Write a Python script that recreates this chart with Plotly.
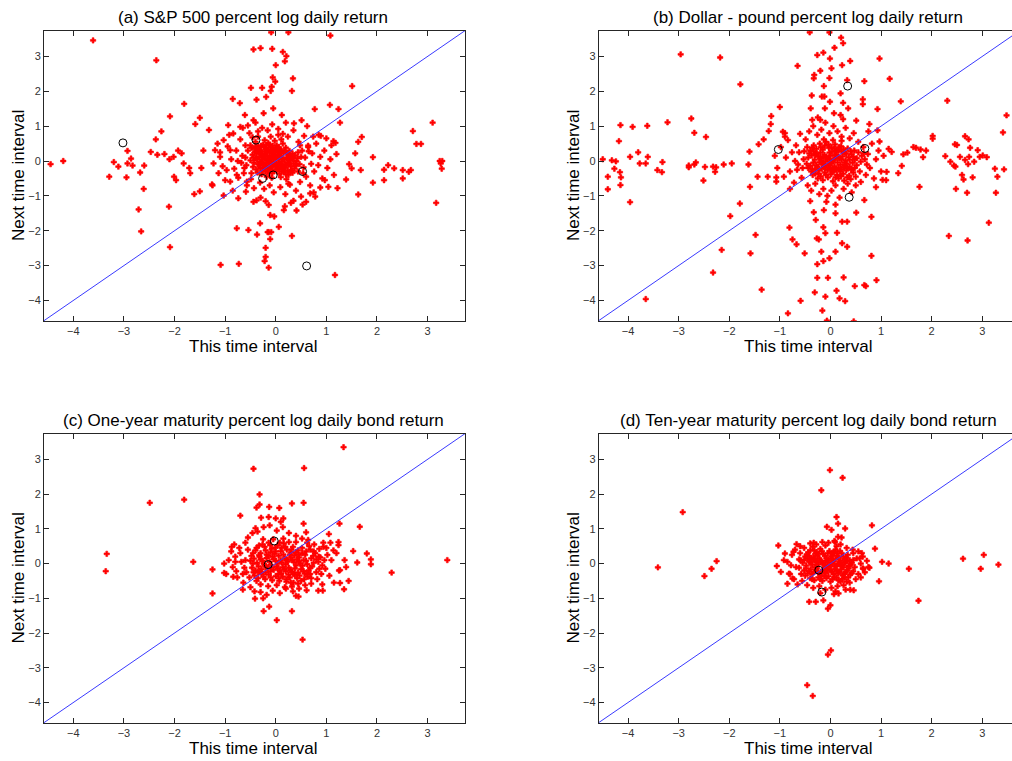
import plotly.graph_objects as go

# ---------------- data ----------------
panel_titles = ["(a) S&P 500 percent log daily return",
                "(b) Dollar - pound percent log daily return",
                "(c) One-year maturity percent log daily bond return",
                "(d) Ten-year maturity percent log daily bond return"]
x_label = "This time interval"
y_label = "Next time interval"
tick_values = [-4, -3, -2, -1, 0, 1, 2, 3]
data_min, data_max = -4.58, 3.74

# (a) S&P 500: (this, next) pairs
a_points = [
    (-4.45, -0.09), (-4.20, 0.0), (-3.61, 3.46), (-2.36, 2.89), (-1.81, 1.64), (-3.29, -0.45), (-3.20, -0.03),
    (-3.11, -0.16), (-2.93, 0.29), (-2.93, -0.07), (-2.95, -0.47), (-2.86, 0.07), (-2.83, -0.13), (-2.68, -0.33),
    (-2.60, -0.13), (-2.61, -0.80), (-2.71, -1.39), (-2.66, -2.02), (-2.37, 0.62), (-2.34, 0.18), (-2.26, 0.85),
    (-2.47, 0.26), (-2.20, 0.20), (-2.09, 1.28), (-2.10, 0.05), (-2.02, 0.12), (-2.01, -0.45), (-1.97, -0.55),
    (-2.11, -1.31), (-2.09, -2.47), (-1.93, 0.30), (-1.86, 0.22), (-1.82, -0.07), (-1.71, -0.20), (-1.69, -0.35),
    (-1.59, 1.06), (-1.50, 1.24), (-1.61, -0.95), (-1.50, -0.87), (-1.47, -0.20), (-1.43, 0.30), (-1.32, 0.89),
    (-1.26, -0.67), (-1.25, -0.70), (-1.09, -2.98), (-0.73, -2.95), (-1.03, -0.99), (-0.94, 1.03), (-0.85, 1.78),
    (-0.71, 1.66), (-0.77, -1.93), (-0.54, -1.98), (-0.37, -2.11), (-0.44, 3.20), (-0.30, 3.24), (-0.07, 3.22),
    (-0.09, 3.69), (0.25, 3.69), (0.14, 3.13), (0.21, 3.01), (0.18, 2.86), (0.0, 2.75), (-0.06, 2.40), (-0.01, 2.28),
    (-0.08, 2.13), (-0.10, 2.01), (-0.27, 2.10), (-0.49, 2.10), (0.34, 2.37), (0.32, 2.01), (-0.38, 1.76),
    (-0.19, 1.84), (1.08, 3.60), (1.51, 2.15), (1.07, 1.61), (1.24, 1.49), (0.77, 1.49), (1.27, 1.10), (1.14, 0.57),
    (1.18, 0.52), (1.70, 0.69), (1.63, 0.55), (1.57, 0.22), (1.92, 0.11), (1.45, -0.09), (1.50, -0.21), (1.68, -0.26),
    (1.39, -0.53), (1.92, -0.62), (1.63, -0.96), (1.22, -0.78), (2.22, -0.12), (2.14, -0.25), (2.34, -0.21),
    (2.14, -0.55), (2.51, -0.26), (2.51, -0.50), (2.63, -0.31), (2.67, -0.26), (2.71, 0.86), (2.78, 0.49),
    (2.87, 0.49), (3.10, 1.10), (3.24, 0.0), (3.26, -0.07), (3.29, 0.0), (3.28, -0.22), (3.17, -1.20), (1.17, -3.27),
    (0.32, -2.15), (0.06, -1.89), (-0.14, -2.04), (-0.09, -2.04), (-0.16, -2.04), (-0.11, -2.24), (-0.20, -2.49),
    (-0.20, -2.75), (-0.22, -2.87), (-0.14, -3.06), (-0.31, -1.79), (-0.11, -1.55), (-0.03, -1.59), (0.18, -1.30),
    (0.41, -1.42), (0.35, -1.14), (0.60, -1.17), (0.53, -1.25), (0.16, -1.41), (-0.14, -1.26), (-0.44, -1.17),
    (-0.38, -1.13), (-0.74, -1.07), (-0.59, -0.88), (-0.57, -0.59), (0.78, -1.02), (0.68, -0.93), (0.88, -0.76),
    (1.04, -0.74), (0.97, -0.55), (0.89, 0.72), (0.74, 0.70), (0.64, 0.44), (0.51, 1.17), (0.36, 1.08), (0.12, 1.32),
    (-0.05, 1.51), (-0.24, 1.37), (-0.44, 1.17), (-0.61, 1.32), (-0.70, 0.98), (-0.84, 0.79), (-0.90, 0.31),
    (-1.03, 0.60), (-1.10, 0.12), (-1.20, 0.31), (-1.23, -0.07), (-1.13, -0.35), (-0.97, -0.26), (-0.90, -0.59),
    (-0.77, -0.40),
    # central cloud
    (-0.42, 0.35), (-0.35, 0.42), (-0.30, 0.28), (-0.25, 0.47), (-0.20, 0.36), (-0.15, 0.52), (-0.10, 0.40),
    (-0.05, 0.31), (0.02, 0.45), (0.08, 0.33), (0.14, 0.50), (0.20, 0.38), (0.27, 0.29), (-0.46, 0.18), (-0.38, 0.22),
    (-0.33, 0.12), (-0.27, 0.19), (-0.22, 0.08), (-0.17, 0.24), (-0.12, 0.15), (-0.07, 0.21), (-0.02, 0.11),
    (0.04, 0.26), (0.09, 0.14), (0.15, 0.22), (0.21, 0.10), (0.26, 0.18), (0.32, 0.07), (0.38, 0.16), (-0.50, 0.02),
    (-0.43, -0.05), (-0.37, 0.05), (-0.31, -0.02), (-0.26, 0.03), (-0.19, -0.04), (-0.14, 0.06), (-0.09, -0.01),
    (-0.04, 0.04), (0.01, -0.03), (0.06, 0.05), (0.12, -0.02), (0.17, 0.03), (0.23, -0.05), (0.29, 0.01),
    (0.35, -0.06), (0.41, 0.00), (0.47, -0.09), (-0.45, -0.17), (-0.39, -0.24), (-0.32, -0.13), (-0.24, -0.21),
    (-0.18, -0.12), (-0.11, -0.19), (-0.06, -0.10), (0.00, -0.16), (0.05, -0.23), (0.11, -0.12), (0.18, -0.18),
    (0.24, -0.26), (0.30, -0.15), (0.37, -0.22), (0.44, -0.30), (-0.36, -0.33), (-0.28, -0.38), (-0.21, -0.30),
    (-0.13, -0.35), (-0.03, -0.29), (0.07, -0.36), (0.16, -0.31), (0.25, -0.40), (0.33, -0.34), (-0.18, -0.45),
    (-0.08, -0.48), (0.10, -0.46), (0.21, -0.52), (-0.40, 0.55), (-0.22, 0.60), (-0.02, 0.58), (0.11, 0.62),
    (-0.55, 0.30), (-0.60, 0.10), (-0.58, -0.12), (0.50, 0.12), (0.55, -0.18), (0.52, 0.30), (-0.16, 0.02),
    (-0.11, 0.09), (-0.21, 0.14), (-0.06, 0.13), (-0.01, 0.19), (0.03, 0.09), (-0.24, -0.09), (-0.28, 0.10),
    (0.08, -0.07), (0.13, 0.08), (-0.08, 0.27), (-0.18, 0.31), (-0.13, -0.06), (0.19, -0.09), (-0.33, 0.32),
    (0.25, 0.06), (-0.03, -0.08), (0.06, 0.17), (-0.26, 0.26), (-0.40, 0.08), (0.03, 0.36), (0.15, -0.24),
    (-0.10, -0.25), (0.33, 0.22), (0.40, -0.14), (-0.48, 0.38), (0.44, 0.25),
    (-0.40, 0.42), (-0.34, 0.36), (-0.29, 0.44), (-0.23, 0.40), (-0.18, 0.45), (-0.12, 0.47), (-0.06, 0.44),
    (0.00, 0.38), (0.06, 0.40), (0.11, 0.30), (0.17, 0.28), (0.23, 0.24), (-0.41, 0.27), (-0.36, 0.30),
    (-0.31, 0.21), (-0.20, 0.19), (-0.14, 0.33), (-0.09, 0.30), (0.01, 0.30), (0.10, 0.24), (0.29, 0.13),
    (0.35, 0.10), (-0.44, 0.10), (-0.35, -0.09), (-0.29, -0.06), (-0.22, -0.15), (-0.16, -0.20), (-0.07, -0.16),
    (0.03, -0.12), (0.09, -0.19), (0.14, -0.15), (0.21, -0.14), (0.27, -0.09), (0.32, -0.27), (0.40, -0.08),
    (0.43, 0.08), (-0.26, -0.28), (-0.16, -0.27), (-0.07, -0.35), (0.02, -0.25), (0.12, -0.30), (0.20, -0.38),
    (0.29, -0.31), (-0.31, -0.20),
    (-0.95, 0.42), (-0.88, 0.05), (-0.82, -0.22), (-0.78, 0.30), (-0.74, -0.48), (-0.70, 0.62), (-0.66, 0.15),
    (-0.63, -0.35), (-0.60, 0.45), (-0.57, -0.70), (-0.68, -0.05), (-0.52, 0.80), (-0.49, -0.52), (-0.46, 0.68),
    (-0.43, -0.78), (-0.35, 0.85), (-0.31, -0.62), (-0.27, 0.95), (-0.23, -0.80), (-0.16, 0.88), (-0.12, -0.70),
    (-0.07, 1.05), (-0.04, -0.90), (0.05, 0.92), (0.09, -0.75), (0.14, 0.78), (0.19, -0.95), (0.24, 0.70),
    (0.28, -0.68), (0.35, 0.88), (0.40, -0.85), (0.45, 0.55), (0.48, -0.60), (0.56, 0.72), (0.60, -0.45),
    (0.64, 0.40), (0.68, -0.70), (0.72, 0.22), (0.76, -0.30), (0.80, 0.50), (0.84, -0.12), (0.88, 0.12),
    (0.92, -0.50), (0.96, 0.30), (1.02, -0.20), (1.08, 0.05), (1.15, -0.40), (1.20, 0.20), (-1.05, -0.15),
    (-1.10, 0.25), (-1.00, -0.55), (-0.92, 0.75), (-0.85, -0.85), (-0.55, 1.02), (0.20, 1.10), (0.62, 1.00),
    (0.50, -1.02), (-0.30, -1.05), (0.75, -0.90), (1.10, 0.45), (-1.15, 0.50), (-0.40, 1.10), (-0.20, -1.15),
    (0.30, -1.20), (0.85, 0.75), (1.00, 0.65), (-0.65, 0.95), (0.58, 0.10), (-0.75, 0.00), (0.70, -0.08),
    (0.65, 0.28), (-0.62, -0.20), (0.54, -0.35), (-0.50, 0.45), (0.48, 0.45), (-0.48, -0.35), (0.05, 0.75),
    (-0.35, 0.70), (0.25, -0.65), (-0.10, 0.70),
]
a_circles = [(-3.02, 0.52), (-0.39, 0.60), (-0.26, -0.50), (-0.05, -0.40), (0.53, -0.30), (0.61, -3.01)]

# (b) Dollar - pound
b_points = [
    (-4.50, 0.05), (-4.40, -0.45), (-4.40, -0.81), (-4.32, 0.02), (-4.24, -0.01), (-4.27, -0.22), (-4.18, 0.57),
    (-4.15, 1.03), (-4.16, -0.32), (-4.14, -0.47), (-4.15, -0.69), (-3.96, 0.12), (-3.91, 0.98), (-3.96, -1.18),
    (-3.80, 0.25), (-3.77, -0.07), (-3.65, -0.07), (-3.61, 0.12), (-3.62, 1.01), (-3.42, -0.26), (-3.33, -0.32),
    (-3.32, -0.03), (-3.22, 1.11), (-3.65, -3.96), (-2.96, 3.06), (-2.80, -0.13), (-2.80, -0.18), (-2.75, 1.22),
    (-2.69, 0.81), (-2.69, -0.10), (-2.66, -0.04), (-2.51, -0.56), (-2.48, -0.17), (-2.46, 0.69), (-2.32, -0.16),
    (-2.28, -0.31), (-2.26, -0.18), (-2.18, 2.97), (-2.11, -0.10), (-1.95, -0.07), (-1.78, 2.20), (-2.32, -3.20),
    (-2.15, -2.55), (-1.98, -1.58), (-1.79, -1.22), (-1.58, -2.65), (-1.48, -2.12), (-1.36, -3.69), (-1.60, 0.27),
    (-1.62, -0.10), (-1.59, -0.74), (-1.44, -0.45), (-1.42, 0.48), (-1.32, 0.62), (-1.22, 0.86), (-1.18, 1.06),
    (-1.17, 1.29), (-1.00, 1.55), (-0.94, 0.84), (-0.90, 0.70), (-1.07, -0.47), (-1.07, -0.59), (-1.24, -0.45),
    (-0.81, -1.91), (-0.75, -2.25), (-0.67, -2.39), (-0.51, -2.65), (-0.59, -4.01), (-0.84, -4.37), (-0.31, -3.77),
    (-0.16, -4.29), (-0.10, -3.89), (-0.07, -4.58), (0.12, -3.72), (0.18, -3.94), (0.29, -4.02), (0.46, -4.60),
    (0.48, -3.59), (0.70, -3.59), (0.67, -3.56), (0.91, -3.42), (0.81, -2.72), (0.81, -1.60), (0.67, -1.12),
    (0.51, -1.48), (0.26, -3.34), (0.33, -2.46), (0.23, -2.36), (0.13, -2.06), (0.23, -1.74), (0.33, -1.74),
    (-0.05, -3.35), (-0.26, -3.35), (-0.26, -2.96), (-0.14, -2.87), (-0.02, -2.79), (-0.18, -2.60), (0.10, -2.60),
    (-0.27, -2.22), (-0.10, -2.07), (-0.14, -1.90), (-0.23, -2.25), (-0.33, -1.47), (-0.29, -1.69), (-0.13, -1.41),
    (-0.08, -1.17), (0.10, -1.50),
    (-0.41, 3.69), (-0.02, 3.69), (0.21, 3.54), (0.25, 3.38), (0.08, 3.25), (-0.26, 3.04), (-0.14, 3.11),
    (-0.01, 2.94), (0.39, 2.87), (-0.65, 2.73), (0.23, 2.75), (0.02, 2.66), (-0.20, 2.59), (-0.32, 2.47),
    (-0.33, 2.37), (-0.02, 2.38), (0.33, 2.32), (0.67, 2.29), (-0.13, 2.15), (0.20, 1.94), (-0.37, 1.88),
    (-0.17, 1.85), (-0.12, 1.85), (-0.01, 1.70), (0.25, 1.67), (0.64, 1.77), (0.64, 1.63), (-0.39, 1.51),
    (-0.11, 1.51), (0.35, 1.51), (0.07, 1.37), (0.20, 1.32), (-0.20, 1.18), (0.51, 1.16), (-0.36, 1.18),
    (0.97, 2.94), (1.17, 2.36), (0.93, 1.49), (1.39, 1.71), (0.93, 0.88), (0.77, 1.06),
    (0.97, 0.56), (1.21, 0.26), (1.11, -0.31), (1.03, -0.54), (1.34, -0.35), (1.41, -0.14), (1.44, 0.19),
    (1.52, 0.24), (1.64, 0.40), (1.69, 0.38), (1.78, 0.33), (1.83, 0.11), (1.89, 0.30), (1.76, -0.74), (2.02, 0.72),
    (2.02, 0.64), (2.31, 1.73), (2.27, 0.14), (2.37, -0.02), (2.44, -0.13), (2.47, -0.16), (2.48, -0.80),
    (2.34, -2.15), (2.46, 0.48), (2.50, 0.46), (2.56, 0.12), (2.60, -0.40), (2.63, -0.53), (2.66, 0.71),
    (2.73, 0.62), (2.66, 0.03), (2.74, 0.12), (2.76, 0.38), (2.72, -0.09), (2.70, -0.91), (2.71, -2.28),
    (2.81, -0.47), (2.84, -0.02), (2.91, 0.31), (2.95, 0.12), (3.01, 0.16), (3.09, 0.11), (3.13, -1.77),
    (3.25, -0.22), (3.30, -0.45), (3.27, -0.91), (3.41, 0.82), (3.43, -0.24), (3.48, 1.31),
    # central cloud
    (-0.40, 0.30), (-0.33, 0.45), (-0.27, 0.22), (-0.21, 0.50), (-0.15, 0.33), (-0.09, 0.55), (-0.03, 0.38),
    (0.03, 0.27), (0.09, 0.48), (0.15, 0.31), (0.21, 0.42), (0.28, 0.25), (0.34, 0.36), (-0.44, 0.10), (-0.37, 0.16),
    (-0.31, 0.04), (-0.24, 0.13), (-0.18, 0.02), (-0.12, 0.18), (-0.06, 0.07), (0.00, 0.15), (0.06, 0.03),
    (0.12, 0.20), (0.18, 0.08), (0.24, 0.14), (0.30, 0.02), (0.36, 0.11), (0.42, 0.19), (0.48, 0.05), (-0.47, -0.08),
    (-0.40, -0.14), (-0.34, -0.05), (-0.28, -0.12), (-0.22, -0.03), (-0.16, -0.10), (-0.10, -0.02), (-0.04, -0.13),
    (0.02, -0.06), (0.08, -0.15), (0.14, -0.04), (0.20, -0.11), (0.26, -0.18), (0.32, -0.08), (0.38, -0.16),
    (0.44, -0.05), (0.52, -0.12), (-0.38, -0.30), (-0.30, -0.24), (-0.23, -0.36), (-0.17, -0.22), (-0.11, -0.33),
    (-0.05, -0.25), (0.01, -0.38), (0.07, -0.28), (0.13, -0.40), (0.19, -0.30), (0.25, -0.37), (0.31, -0.27),
    (0.37, -0.42), (0.45, -0.33), (-0.25, -0.50), (-0.15, -0.55), (-0.05, -0.47), (0.05, -0.58), (0.16, -0.50),
    (0.27, -0.56), (0.40, -0.52), (0.55, 0.25), (0.60, -0.02), (0.58, -0.30), (-0.52, 0.28), (-0.55, -0.20),
    (-0.13, 0.62), (0.05, 0.60), (0.22, 0.58), (-0.08, 0.10), (0.04, -0.01), (-0.14, -0.06), (0.10, 0.09),
    (-0.02, 0.24), (0.16, -0.20), (-0.20, 0.24), (-0.26, -0.17), (0.22, 0.27), (0.33, -0.20), (-0.09, -0.19),
    (0.08, 0.36), (-0.33, 0.28), (0.28, -0.05), (0.00, -0.20), (0.47, 0.30), (-0.46, 0.40), (0.62, 0.15),
    (-0.35, -0.40), (0.50, -0.45),
    (-0.36, 0.38), (-0.28, 0.35), (-0.19, 0.40), (-0.11, 0.44), (-0.04, 0.48), (0.02, 0.40), (0.10, 0.30),
    (0.17, 0.40), (0.26, 0.34), (0.31, 0.21), (-0.42, 0.22), (-0.30, 0.18), (-0.20, 0.08), (-0.14, 0.12),
    (-0.02, 0.05), (0.08, 0.17), (0.14, 0.12), (0.22, 0.04), (0.38, 0.03), (0.45, 0.12), (-0.44, -0.20),
    (-0.36, -0.23), (-0.24, -0.27), (-0.13, -0.17), (-0.02, -0.09), (0.06, -0.22), (0.11, -0.25), (0.22, -0.24),
    (0.29, -0.14), (0.41, -0.25), (0.48, -0.20), (-0.30, -0.36), (-0.19, -0.44), (-0.09, -0.40), (0.03, -0.31),
    (0.10, -0.47), (0.21, -0.43), (0.33, -0.47), (0.52, 0.08), (0.40, 0.28),
    (-1.10, 0.15), (-1.05, -0.20), (-0.98, 0.40), (-0.92, -0.45), (-0.88, 0.10), (-0.84, 0.60), (-0.80, -0.30),
    (-0.76, 0.25), (-0.72, -0.62), (-0.68, 0.45), (-0.64, -0.10), (-0.60, 0.78), (-0.57, -0.48), (-0.53, 0.05),
    (-0.49, 0.62), (-0.45, -0.70), (-0.42, 0.85), (-0.38, -0.85), (-0.34, 1.00), (-0.30, -0.65), (-0.26, 0.75),
    (-0.22, -0.95), (-0.18, 0.90), (-0.14, -0.80), (-0.10, 1.10), (-0.06, -1.00), (-0.02, 0.80), (0.02, -0.85),
    (0.06, 1.00), (0.10, -0.70), (0.14, 0.85), (0.18, -1.05), (0.22, 0.70), (0.26, -0.80), (0.30, 0.95),
    (0.34, -0.65), (0.38, 0.65), (0.42, -0.90), (0.46, 0.80), (0.50, -0.70), (0.55, 0.55), (0.60, -0.60),
    (0.65, 0.40), (0.70, -0.40), (0.74, 0.20), (0.78, -0.20), (0.82, 0.50), (0.86, -0.50), (0.90, 0.05),
    (0.95, 0.30), (1.00, -0.30), (1.05, 0.15), (1.10, -0.55), (1.15, 0.35), (0.68, 0.05), (-0.70, 0.00),
    (0.72, -0.10), (-0.62, 0.25), (0.66, 0.22), (-0.66, -0.25), (0.90, -0.75), (-0.90, 0.80), (0.25, 1.20),
    (-0.25, 1.25), (0.10, -1.25), (-0.40, -1.15), (0.75, 0.85), (-0.80, -0.80),
]
b_circles = [(-1.03, 0.33), (0.34, 2.15), (0.68, 0.36), (0.37, -1.04)]

# (c) One-year bond
c_points = [
    (-3.36, -0.22), (-3.34, 0.28), (-2.49, 1.75), (-1.81, 1.84), (-1.63, 0.05), (-1.25, -0.17), (-1.25, -0.86),
    (-0.44, 2.73), (0.56, 2.75), (1.34, 3.35), (-0.32, 1.99), (0.32, 1.73), (0.55, 1.75), (-0.38, 1.61),
    (-0.32, 1.70), (-0.13, 1.63), (0.07, 1.60), (-0.70, 1.38), (-0.29, 1.32), (-0.14, 1.34), (0.0, 1.30),
    (0.15, 1.30), (0.55, 1.15), (1.26, 1.15), (1.66, 1.06), (1.53, 0.36), (1.80, 0.29), (1.61, 0.03), (1.88, 0.12),
    (1.88, -0.02), (2.29, -0.26), (3.39, 0.10), (1.44, -0.50), (1.35, -0.74), (1.27, -0.56), (1.39, -0.10),
    (1.36, 0.10), (1.27, -0.19), (0.84, -0.78), (0.93, -0.78), (0.61, -0.77), (0.40, -0.93), (0.32, -1.37),
    (0.53, -2.19), (0.02, -1.63), (-0.13, -1.24), (-0.24, -1.37), (-0.41, -1.01), (-0.65, -0.75), (-0.84, -0.38),
    (-1.02, -0.27), (-0.87, 0.48), (-1.02, 0.0), (-0.80, 0.05), (1.05, 0.85), (0.94, 0.48), (1.14, 0.38),
    (1.24, 0.62), (1.24, 0.53),
    # central cloud
    (-0.45, 0.30), (-0.38, 0.45), (-0.32, 0.20), (-0.26, 0.55), (-0.20, 0.38), (-0.14, 0.60), (-0.08, 0.42),
    (-0.02, 0.28), (0.04, 0.52), (0.10, 0.36), (0.16, 0.58), (0.22, 0.40), (0.28, 0.26), (0.34, 0.48), (0.40, 0.32),
    (0.46, 0.18), (-0.50, 0.08), (-0.43, 0.14), (-0.37, 0.02), (-0.30, 0.12), (-0.24, 0.00), (-0.18, 0.16),
    (-0.12, 0.05), (-0.06, 0.19), (0.00, 0.08), (0.06, 0.22), (0.12, 0.03), (0.18, 0.15), (0.24, 0.06), (0.30, 0.18),
    (0.36, 0.04), (0.42, 0.12), (0.48, 0.00), (0.55, 0.10), (0.62, -0.02), (-0.47, -0.12), (-0.40, -0.20),
    (-0.34, -0.08), (-0.28, -0.16), (-0.22, -0.05), (-0.16, -0.14), (-0.10, -0.04), (-0.04, -0.18), (0.02, -0.08),
    (0.08, -0.20), (0.14, -0.10), (0.20, -0.22), (0.26, -0.12), (0.32, -0.24), (0.38, -0.14), (0.44, -0.26),
    (0.50, -0.16), (0.57, -0.28), (0.65, -0.20), (0.72, -0.08), (0.70, 0.15), (-0.42, -0.35), (-0.35, -0.42),
    (-0.28, -0.30), (-0.21, -0.45), (-0.14, -0.32), (-0.07, -0.48), (0.00, -0.36), (0.07, -0.50), (0.14, -0.38),
    (0.21, -0.52), (0.28, -0.40), (0.35, -0.55), (0.42, -0.42), (0.50, -0.50), (-0.30, -0.60), (-0.15, -0.65),
    (0.02, -0.62), (0.18, -0.68), (0.32, -0.66), (0.60, 0.35), (0.66, 0.50), (0.52, 0.45), (0.58, 0.25),
    (0.78, 0.30), (0.84, 0.05), (0.80, -0.25), (-0.55, 0.40), (-0.58, -0.25), (-0.05, 0.70), (0.15, 0.72),
    (-0.25, 0.70), (0.40, 0.62), (0.10, 0.10), (-0.08, -0.10), (0.20, -0.02), (-0.18, 0.26), (0.05, -0.30),
    (0.30, 0.32), (-0.30, 0.30), (0.25, -0.32), (-0.10, 0.33), (0.45, 0.25), (0.38, -0.32), (-0.35, -0.25),
    (0.12, 0.45), (-0.20, -0.25), (0.00, 0.35), (0.63, -0.38), (0.75, 0.02), (-0.48, 0.22), (0.88, 0.18),
    (0.92, -0.05),
    (-0.40, 0.38), (-0.33, 0.52), (-0.22, 0.48), (-0.11, 0.53), (-0.01, 0.46), (0.08, 0.60), (0.19, 0.48),
    (0.26, 0.62), (0.31, 0.40), (0.37, 0.24), (0.44, 0.38), (0.52, 0.30), (-0.45, 0.00), (-0.33, 0.24),
    (-0.26, 0.08), (-0.14, 0.22), (-0.04, 0.13), (0.04, 0.00), (0.15, 0.26), (0.22, 0.12), (0.33, 0.10),
    (0.40, -0.05), (0.46, 0.06), (0.53, -0.06), (0.60, 0.08), (0.68, -0.12), (-0.44, -0.25), (-0.31, -0.22),
    (-0.19, -0.08), (-0.10, -0.22), (0.04, -0.14), (0.11, -0.28), (0.17, -0.16), (0.29, -0.18), (0.35, -0.30),
    (0.47, -0.35), (0.55, -0.22), (0.62, -0.30), (0.70, -0.42), (-0.38, -0.50), (-0.24, -0.38), (-0.10, -0.40),
    (0.06, -0.42), (0.21, -0.45), (0.30, -0.55), (0.44, -0.58), (0.56, -0.45), (0.74, 0.22), (0.68, 0.40),
    (0.80, 0.12), (0.86, -0.15), (0.62, 0.60), (-0.52, -0.40), (-0.60, 0.10),
    (-0.98, -0.30), (-0.93, 0.10), (-0.88, 0.35), (-0.85, -0.10), (-0.80, 0.20), (-0.76, -0.40), (-0.72, 0.45),
    (-0.68, 0.05), (-0.64, -0.55), (-0.60, 0.60), (-0.62, -0.12), (-0.55, 0.75), (-0.50, -0.68), (-0.46, 0.88),
    (-0.42, -0.80), (-0.36, 0.92), (-0.30, -0.82), (-0.24, 1.05), (-0.18, -0.90), (-0.12, 1.10), (-0.06, -0.78),
    (0.02, 0.95), (0.08, -0.85), (0.14, 1.05), (0.20, -0.72), (0.26, 0.88), (0.34, -0.80), (0.40, 0.80),
    (0.46, -0.72), (0.52, 0.72), (0.58, -0.62), (0.64, 0.68), (0.70, -0.58), (0.76, 0.55), (0.82, -0.45),
    (0.86, 0.42), (0.90, -0.30), (0.94, 0.60), (0.98, -0.15), (1.02, 0.25), (1.06, -0.35), (1.10, 0.10),
    (1.15, -0.55), (1.20, 0.30), (1.25, -0.20), (0.96, 0.10), (0.85, 0.20), (-0.78, -0.22), (0.92, -0.60),
    (-0.82, 0.55), (0.60, 0.90), (-0.40, 1.02), (0.10, 1.20), (-0.25, -1.00), (0.45, -0.95), (1.00, 0.45),
    (1.08, 0.60), (-0.70, 0.30), (0.68, -0.30), (-0.65, -0.30), (0.75, 0.35),
]
c_circles = [(-0.03, 0.65), (-0.15, -0.03)]

# (d) Ten-year bond
d_points = [
    (-3.41, -0.11), (-2.92, 1.48), (-2.49, -0.36), (-2.35, -0.15), (-2.25, 0.07), (-0.46, -3.50), (-0.35, -3.81),
    (-0.05, -2.62), (0.01, -2.50), (-0.01, 2.69), (0.24, 2.47), (-0.18, 2.11), (0.12, 1.34), (0.15, 1.15),
    (0.29, 1.01), (-0.07, 1.06), (0.02, 0.97), (0.82, 1.10), (0.88, 0.43), (0.15, 0.77), (0.22, 0.75), (0.09, 0.62),
    (-0.33, 0.60), (-0.67, 0.56), (-1.03, 0.52), (1.02, 0.05), (1.15, 0.0), (0.96, -0.51), (1.55, -0.15),
    (1.74, -1.07), (2.62, 0.14), (3.03, 0.25), (2.97, -0.15), (3.32, -0.03), (-0.42, -1.10), (-0.29, -1.10),
    (-0.14, -1.06), (-0.05, -1.30), (0.0, -1.20), (0.07, -0.88), (0.16, -0.86), (0.39, -0.75), (0.46, -0.77),
    (0.77, -0.12), (0.64, -0.14), (-1.06, -0.07), (-0.98, -0.24), (-0.92, 0.10), (-0.90, 0.29), (-0.82, -0.29),
    (-0.85, -0.58), (-0.75, -0.43), (-0.73, 0.34), (-0.59, 0.10),
    # central cloud
    (-0.50, 0.20), (-0.44, 0.32), (-0.38, 0.12), (-0.32, 0.38), (-0.26, 0.22), (-0.20, 0.42), (-0.14, 0.28),
    (-0.08, 0.15), (-0.02, 0.36), (0.04, 0.24), (0.10, 0.40), (0.16, 0.18), (0.22, 0.30), (0.28, 0.12), (0.34, 0.25),
    (-0.55, 0.02), (-0.48, -0.06), (-0.42, 0.05), (-0.36, -0.04), (-0.30, 0.08), (-0.24, -0.02), (-0.18, 0.06),
    (-0.12, -0.05), (-0.06, 0.04), (0.00, -0.03), (0.06, 0.07), (0.12, -0.06), (0.18, 0.03), (0.24, -0.04),
    (0.30, 0.05), (0.36, -0.07), (0.42, 0.02), (0.48, -0.10), (-0.52, -0.20), (-0.45, -0.28), (-0.39, -0.16),
    (-0.33, -0.25), (-0.27, -0.13), (-0.21, -0.30), (-0.15, -0.18), (-0.09, -0.27), (-0.03, -0.14), (0.03, -0.24),
    (0.09, -0.16), (0.15, -0.28), (0.21, -0.17), (0.27, -0.30), (0.33, -0.20), (0.39, -0.32), (0.45, -0.22),
    (-0.40, -0.42), (-0.32, -0.48), (-0.24, -0.40), (-0.16, -0.50), (-0.08, -0.42), (0.00, -0.52), (0.08, -0.40),
    (0.16, -0.48), (0.24, -0.44), (0.32, -0.52), (0.52, 0.15), (0.55, -0.30), (0.60, 0.00), (-0.60, 0.30),
    (-0.62, -0.12), (-0.35, 0.48), (-0.10, 0.52), (0.12, 0.50), (-0.05, 0.10), (0.02, 0.14), (-0.15, 0.00),
    (0.08, -0.08), (-0.10, -0.10), (0.20, 0.08), (-0.22, 0.15), (-0.28, -0.20), (0.14, 0.30), (-0.04, -0.36),
    (0.38, 0.10), (-0.42, 0.22), (0.26, -0.10), (-0.18, -0.35), (0.05, 0.30), (-0.30, 0.28), (0.35, -0.40),
    (-0.50, -0.35), (0.65, -0.15), (0.45, 0.30),
    (-0.47, 0.26), (-0.40, 0.38), (-0.34, 0.18), (-0.27, 0.33), (-0.23, 0.28), (-0.17, 0.36), (-0.11, 0.22),
    (-0.05, 0.30), (0.01, 0.20), (0.07, 0.34), (0.13, 0.22), (0.19, 0.36), (0.25, 0.20), (0.31, 0.17),
    (-0.52, 0.10), (-0.45, 0.14), (-0.39, 0.03), (-0.33, 0.12), (-0.27, 0.04), (-0.21, 0.10), (-0.09, 0.08),
    (-0.03, -0.08), (0.04, 0.02), (0.10, 0.12), (0.15, -0.02), (0.22, -0.08), (0.28, 0.02), (0.33, 0.08),
    (0.40, -0.03), (0.45, 0.10), (-0.48, -0.14), (-0.42, -0.22), (-0.36, -0.30), (-0.30, -0.10), (-0.24, -0.25),
    (-0.12, -0.22), (-0.06, -0.20), (0.00, -0.18), (0.06, -0.30), (0.12, -0.20), (0.18, -0.24), (0.24, -0.34),
    (0.30, -0.25), (0.36, -0.14), (0.42, -0.28), (-0.36, -0.45), (-0.20, -0.45), (-0.12, -0.36), (0.04, -0.45),
    (0.12, -0.40), (0.20, -0.52), (0.28, -0.40),
    (-0.85, 0.05), (-0.80, -0.30), (-0.76, 0.25), (-0.72, -0.45), (-0.70, 0.40), (-0.68, -0.10), (-0.65, -0.60),
    (-0.60, 0.50), (-0.56, -0.50), (-0.52, 0.45), (-0.46, -0.62), (-0.40, 0.58), (-0.34, -0.70), (-0.28, 0.55),
    (-0.22, -0.65), (-0.16, 0.62), (-0.10, -0.75), (-0.04, 0.60), (0.02, -0.70), (0.08, 0.65), (0.14, -0.65),
    (0.20, 0.55), (0.26, -0.62), (0.32, 0.45), (0.38, -0.55), (0.44, 0.40), (0.50, -0.45), (0.55, 0.35),
    (0.60, -0.40), (0.64, 0.20), (0.68, -0.25), (0.72, 0.08), (0.75, -0.10), (0.58, 0.15), (-0.78, -0.05),
    (0.10, -0.80), (-0.20, -0.85), (0.30, -0.75), (-0.58, -0.30), (0.62, 0.30), (-0.62, 0.12),
]
d_circles = [(-0.23, -0.19), (-0.17, -0.82)]

# ---------------- figure ----------------
W, H = 1012, 761
FONT = "Liberation Sans, Arial, Helvetica, sans-serif"
AXCOL = "#262626"

# panel boxes in pixels: (left, right, top, bottom), plus x-range upper limit
panels = [
    dict(pts=a_points, circ=a_circles, box=(44, 465, 31, 321), xmax=data_max, cx=253, ylx=18, right=True),
    dict(pts=b_points, circ=b_circles, box=(598.7, 1012, 31, 321), xmax=3.588, cx=808, ylx=573, right=False),
    dict(pts=c_points, circ=c_circles, box=(44, 465, 434, 723), xmax=data_max, cx=253, ylx=18, right=True),
    dict(pts=d_points, circ=d_circles, box=(598.7, 1012, 434, 723), xmax=3.588, cx=808, ylx=573, right=False),
]

fig = go.Figure()
annotations = []
for i, p in enumerate(panels):
    sfx = "" if i == 0 else str(i + 1)
    xa, ya = "x" + sfx, "y" + sfx
    l, r, t, b = p["box"]
    xs = [q[0] for q in p["pts"]]
    ys = [q[1] for q in p["pts"]]
    fig.add_trace(go.Scatter(x=xs, y=ys, mode="markers", xaxis=xa, yaxis=ya, showlegend=False,
                             marker=dict(symbol="cross", size=4.5, color="#ff0000",
                                         line=dict(width=0.6, color="#ff0000"))))
    fig.add_trace(go.Scatter(x=[data_min, data_max], y=[data_min, data_max], mode="lines", xaxis=xa, yaxis=ya,
                             showlegend=False, line=dict(color="#3a3aff", width=1)))
    fig.add_trace(go.Scatter(x=[q[0] for q in p["circ"]], y=[q[1] for q in p["circ"]], mode="markers",
                             xaxis=xa, yaxis=ya, showlegend=False,
                             marker=dict(symbol="circle-open", size=8, color="#000000", line=dict(width=1))))
    axis_common = dict(showgrid=False, zeroline=False, showline=True, linecolor=AXCOL, linewidth=1,
                       ticks="inside", ticklen=5, tickcolor=AXCOL, tickwidth=1, tickvals=tick_values,
                       tickfont=dict(family=FONT, size=11, color="#333333"))
    fig.layout["xaxis" + sfx] = dict(axis_common, domain=[l / W, r / W], range=[data_min, p["xmax"]],
                                     anchor=ya, mirror="ticks")
    fig.layout["yaxis" + sfx] = dict(axis_common, domain=[1 - b / H, 1 - t / H], range=[-4.59, 3.73],
                                     anchor=xa, mirror="ticks" if p["right"] else False)
    annotations.append(dict(text=panel_titles[i], x=p["cx"] / W, y=1 - (t - 14) / H, xref="paper", yref="paper",
                            xanchor="center", yanchor="middle", showarrow=False,
                            font=dict(family=FONT, size=17, color="#000000")))
    annotations.append(dict(text=x_label, x=p["cx"] / W, y=1 - (b + 25) / H, xref="paper", yref="paper",
                            xanchor="center", yanchor="middle", showarrow=False,
                            font=dict(family=FONT, size=17, color="#000000")))
    annotations.append(dict(text=y_label, x=p["ylx"] / W, y=1 - ((t + b) / 2) / H, xref="paper", yref="paper",
                            xanchor="center", yanchor="middle", showarrow=False, textangle=-90,
                            font=dict(family=FONT, size=17, color="#000000")))

fig.update_layout(width=W, height=H, margin=dict(l=0, r=0, t=0, b=0), paper_bgcolor="white",
                  plot_bgcolor="white", annotations=annotations, showlegend=False)
fig.write_html("out.html")
